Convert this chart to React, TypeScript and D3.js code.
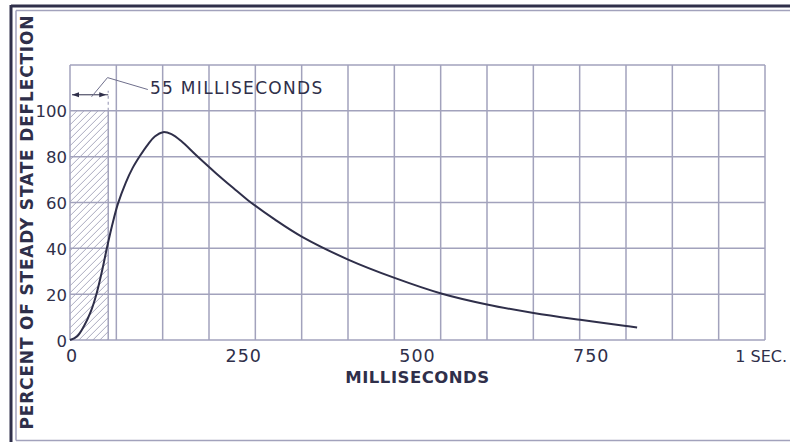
import React from "react";
import * as d3 from "d3";

const timeMs = [0, 10, 20, 30, 38, 46, 53, 61, 69, 80, 90, 101, 112, 122, 134, 146, 160, 182, 210, 235, 256, 295, 334, 401, 468, 534, 600, 667, 734, 800, 816];
const percent = [0, 1.5, 6, 12.5, 20, 30, 40, 50.5, 59.5, 68.5, 75, 80.5, 85.3, 88.8, 90.7, 89.8, 86.8, 80.5, 72.8, 66.3, 61, 52.5, 45, 35, 27, 20.3, 15.5, 11.8, 8.8, 6.1, 5.5];
const yTicks = [0, 20, 40, 60, 80, 100];
const yGrid = [0, 20, 40, 60, 80, 100, 120];
const xTickValues = [0, 250, 500, 750, 1000];
const xTickLabels = ["0", "250", "500", "750", "1 SEC."];
const xGridCount = 15;
const pulseMs = 55;
const pulseLabel = "55 MILLISECONDS";
const xTitle = "MILLISECONDS";
const yTitle = "PERCENT OF STEADY STATE DEFLECTION";

const W = 790;
const H = 442;
const INK = "#2f2f4a";
const GRID = "#a2a2bc";
const FONT = "'DejaVu Sans', sans-serif";

export default function App() {
  const x = d3.scaleLinear().domain([0, 1000]).range([70, 765]);
  const y = d3.scaleLinear().domain([0, 120]).range([340, 65]);
  const pts: [number, number][] = timeMs.map((t, i) => [t, percent[i]]);
  const line = d3
    .line<[number, number]>()
    .x((d) => x(d[0]))
    .y((d) => y(d[1]))
    .curve(d3.curveCatmullRom.alpha(0.5));

  const xGrid = d3.range(xGridCount + 1).map((i) => (1000 / xGridCount) * i);

  const hx0 = x(0);
  const hx1 = x(pulseMs);
  const hy0 = y(100);
  const hy1 = y(0);
  const hatch: [number, number, number, number][] = [];
  const sp = 7;
  for (let c = hy0; c <= hy1 + (hx1 - hx0); c += sp) {
    let xa = hx0;
    let ya = c;
    let xb = hx1;
    let yb = c - (hx1 - hx0);
    if (ya > hy1) {
      xa = hx0 + (ya - hy1);
      ya = hy1;
    }
    if (yb < hy0) {
      xb = hx1 - (hy0 - yb);
      yb = hy0;
    }
    if (xa < xb) hatch.push([xa, ya, xb, yb]);
  }

  const dimY = y(107);
  const arrow = (xTip: number, dir: number) =>
    `M${xTip},${dimY} L${xTip + dir * 7},${dimY - 2.5} L${xTip + dir * 7},${dimY + 2.5} Z`;

  const last = xTickValues.length - 1;

  return (
    <svg
      width={W}
      height={H}
      viewBox={`0 0 ${W} ${H}`}
      style={{ position: "absolute", left: 0, top: 0, background: "#fff" }}
    >
      <rect x={0} y={0} width={W} height={H} fill="#fff" />
      {/* frame */}
      <line x1={11} y1={6} x2={W} y2={6} stroke={INK} strokeWidth={3} />
      <line x1={11} y1={5} x2={11} y2={H} stroke={INK} strokeWidth={3} />
      <line x1={16} y1={10.5} x2={W} y2={10.5} stroke={GRID} strokeWidth={1.5} />
      <line x1={16} y1={10.5} x2={16} y2={440.5} stroke={GRID} strokeWidth={1.5} />
      <line x1={16} y1={440.5} x2={W} y2={440.5} stroke={GRID} strokeWidth={1.5} />

      {/* hatch */}
      {hatch.map((h, i) => (
        <line key={"h" + i} x1={h[0]} y1={h[1]} x2={h[2]} y2={h[3]} stroke="#9494ae" strokeWidth={0.8} />
      ))}
      <line x1={hx1} y1={hy0} x2={hx1} y2={hy1} stroke={GRID} strokeWidth={1.5} />
      <line x1={hx1} y1={hy0} x2={hx1} y2={dimY - 4} stroke={GRID} strokeWidth={1.2} strokeDasharray="3,3" />

      {/* grid */}
      {xGrid.map((v, i) => (
        <line key={"vx" + i} x1={x(v)} y1={y(120)} x2={x(v)} y2={y(0)} stroke={GRID} strokeWidth={1.5} />
      ))}
      {yGrid.map((v, i) => (
        <line key={"hy" + i} x1={x(0)} y1={y(v)} x2={x(1000)} y2={y(v)} stroke={GRID} strokeWidth={1.5} />
      ))}

      {/* dimension */}
      <line x1={hx0 + 2} y1={dimY} x2={hx1} y2={dimY} stroke={INK} strokeWidth={1} />
      <path d={arrow(hx0 + 2, 1)} fill={INK} />
      <path d={arrow(hx1 - 2, -1)} fill={INK} />
      <polyline
        points={`${x(31)},${dimY + 2} ${x(54)},${y(114.5)} ${x(112)},${y(109.3)}`}
        fill="none"
        stroke="#6f6f8c"
        strokeWidth={1}
      />
      <text x={x(115)} y={94} fontFamily={FONT} fontSize={17} letterSpacing={1.3} fill={INK}>
        {pulseLabel}
      </text>

      {/* curve */}
      <path d={line(pts) || ""} fill="none" stroke={INK} strokeWidth={2} />

      {/* y ticks */}
      {yTicks.map((v) => (
        <text
          key={"yt" + v}
          x={67}
          y={y(v) + 6.5}
          textAnchor="end"
          fontFamily={FONT}
          fontSize={16.5}
          fill={INK}
        >
          {v}
        </text>
      ))}
      {/* x ticks */}
      {xTickValues.map((v, i) => (
        <text
          key={"xt" + v}
          x={i === 0 ? x(v) + 2 : i === last ? 787 : x(v)}
          y={362}
          textAnchor={i === last ? "end" : "middle"}
          fontFamily={FONT}
          fontSize={i === last ? 16 : 17.5}
          letterSpacing={i === last ? 0 : 1}
          fill={INK}
        >
          {xTickLabels[i]}
        </text>
      ))}
      <text
        x={(x(0) + x(1000)) / 2}
        y={383}
        textAnchor="middle"
        fontFamily={FONT}
        fontSize={16.5}
        fontWeight="bold"
        letterSpacing={0.5}
        fill={INK}
      >
        {xTitle}
      </text>
      <text
        transform={`translate(33,${222.5}) rotate(-90)`}
        textAnchor="middle"
        fontFamily={FONT}
        fontSize={17}
        fontWeight="bold"
        fill={INK}
        textLength={414}
        lengthAdjust="spacing"
      >
        {yTitle}
      </text>
    </svg>
  );
}
